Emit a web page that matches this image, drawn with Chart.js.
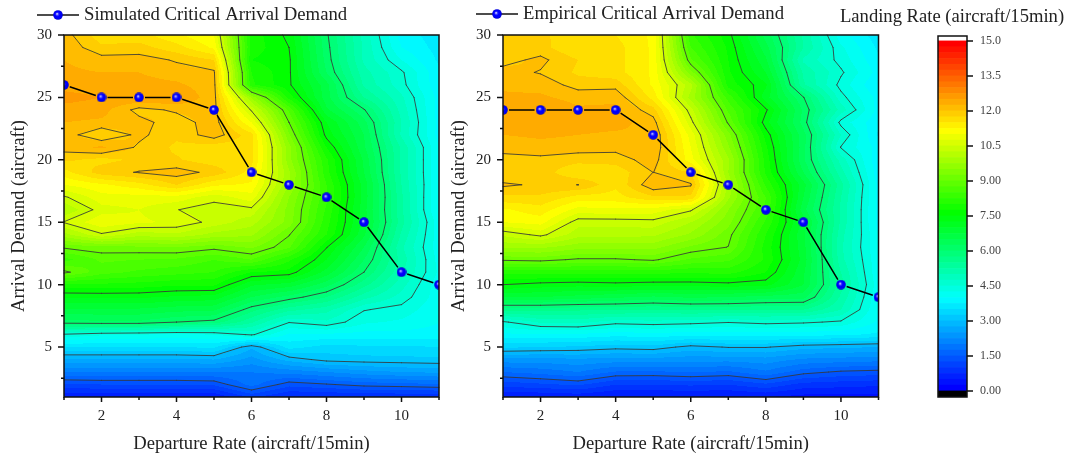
<!DOCTYPE html>
<html>
<head>
<meta charset="utf-8">
<title>Critical Arrival Demand</title>
<script src="https://cdn.jsdelivr.net/npm/chart.js@4/dist/chart.umd.min.js"></script>
<style>
  body { margin: 0; background: #fff; width: 1068px; height: 458px; overflow: hidden; }
  canvas { position: absolute; top: 0; }
  #simChart { left: 0; }
  #empChart { left: 440px; }
  #barChart { left: 830px; }
</style>
</head>
<body>
<canvas id="simChart" width="450" height="458"></canvas>
<canvas id="empChart" width="450" height="458"></canvas>
<canvas id="barChart" width="238" height="458"></canvas>
<script>
// ===== DATA =====
const departureRates = [1, 2, 3, 4, 5, 6, 7, 8, 9, 10, 11];
const arrivalDemands = [1, 2, 3, 4, 5, 6, 7, 8, 9, 10, 11, 12, 13, 14, 15, 16, 17, 18, 19, 20, 21, 22, 23, 24, 25, 26, 27, 28, 29, 30];

const simulatedCritical = [26, 25, 25, 25, 24, 19, 18, 17, 15, 11, 10];
const empiricalCritical = [24, 24, 24, 24, 22, 19, 18, 16, 15, 10, 9];

// landing rate, one row per arrival demand (1 to 30), one column per departure rate (1 to 11)
const simulatedRates = [
  [0.5, 0.5, 0.5, 0.5, 0.5, 1.05, 0.7, 0.7, 0.75, 0.75, 0.75],
  [1.2, 1.25, 1.25, 1.25, 1.3, 1.85, 1.35, 1.47, 1.6, 1.65, 1.72],
  [2.0, 2.0, 2.0, 2.0, 2.0, 2.0, 2.1, 2.25, 2.4, 2.5, 2.55],
  [2.7, 2.7, 2.7, 2.7, 2.75, 2.4, 2.85, 3.1, 3.15, 3.17, 3.2],
  [3.5, 3.5, 3.5, 3.5, 3.55, 2.8, 3.6, 3.4, 3.45, 3.45, 3.5],
  [4.45, 4.3, 4.25, 4.2, 4.25, 4.55, 3.95, 3.95, 3.9, 3.9, 3.9],
  [6.15, 6.2, 6.2, 6.0, 5.9, 5.3, 4.52, 4.7, 4.3, 4.2, 4.0],
  [6.7, 6.7, 6.7, 6.6, 6.55, 5.85, 5.35, 5.1, 4.52, 4.4, 4.05],
  [7.3, 7.3, 7.3, 7.2, 7.15, 6.5, 6.15, 5.75, 5.1, 4.65, 4.1],
  [7.9, 7.95, 7.9, 7.8, 7.8, 7.05, 6.9, 6.35, 5.6, 4.85, 4.1],
  [9.08, 8.6, 8.45, 8.35, 8.25, 7.75, 7.65, 6.9, 6.0, 5.05, 4.2],
  [8.4, 8.8, 8.75, 8.7, 8.5, 8.75, 8.05, 7.25, 6.25, 5.15, 4.15],
  [9.05, 9.17, 9.2, 9.25, 9.1, 9.3, 8.8, 7.52, 6.5, 5.05, 4.1],
  [9.9, 10.45, 10.1, 10.2, 9.9, 9.8, 9.02, 8.0, 6.8, 5.2, 4.1],
  [10.52, 10.95, 10.8, 10.7, 10.4, 10.1, 9.4, 8.1, 6.9, 5.35, 4.1],
  [10.0, 10.65, 10.75, 10.51, 10.35, 10.42, 9.4, 8.2, 6.85, 5.3, 3.95],
  [10.45, 10.9, 10.9, 10.9, 10.6, 10.9, 9.5, 8.3, 6.9, 5.3, 3.95],
  [11.0, 11.2, 11.4, 11.76, 11.3, 11.2, 9.75, 8.25, 6.9, 5.25, 4.0],
  [11.4, 11.88, 12.02, 12.12, 11.92, 11.4, 9.8, 8.1, 6.75, 5.2, 4.0],
  [11.8, 11.67, 11.8, 11.78, 11.6, 11.6, 9.6, 8.05, 6.7, 5.2, 4.0],
  [12.12, 12.3, 11.95, 11.7, 11.6, 11.6, 9.6, 7.75, 6.55, 5.2, 4.0],
  [12.15, 11.75, 12.07, 11.8, 12.15, 11.6, 9.3, 7.4, 6.5, 4.95, 3.9],
  [12.25, 12.2, 12.1, 11.85, 12.15, 11.0, 9.0, 7.25, 6.35, 5.0, 3.9],
  [12.4, 12.35, 11.9, 12.05, 12.1, 10.45, 8.7, 6.8, 6.03, 4.9, 3.9],
  [12.6, 12.5, 12.5, 12.5, 12.1, 9.7, 7.9, 6.6, 5.5, 4.8, 3.9],
  [12.4, 12.35, 12.35, 12.3, 12.1, 8.05, 7.55, 6.6, 5.2, 4.6, 3.8],
  [12.3, 12.25, 12.25, 12.12, 12.05, 8.0, 7.55, 6.25, 5.1, 4.55, 3.8],
  [12.25, 12.12, 12.12, 11.97, 11.75, 7.75, 7.55, 6.15, 4.95, 4.25, 3.7],
  [12.2, 11.8, 11.85, 11.6, 11.2, 7.9, 7.5, 6.1, 4.95, 4.0, 3.65],
  [12.12, 11.6, 11.6, 11.3, 11.0, 7.9, 7.42, 6.05, 4.9, 3.9, 3.6]
];

const empiricalRates = [
  [0.5, 0.5, 0.55, 0.45, 0.45, 0.45, 0.45, 0.5, 0.4, 0.4, 0.4],
  [1.1, 1.2, 1.3, 1.0, 1.0, 1.05, 1.0, 1.2, 0.9, 0.85, 0.8],
  [1.75, 1.85, 2.0, 1.72, 1.7, 1.77, 1.7, 1.95, 1.6, 1.45, 1.4],
  [2.4, 2.4, 2.45, 2.4, 2.4, 2.35, 2.35, 2.4, 2.2, 2.15, 2.1],
  [3.3, 3.25, 3.2, 3.1, 3.15, 2.9, 3.02, 3.02, 2.85, 2.8, 2.75],
  [3.95, 3.95, 3.95, 3.85, 3.9, 3.85, 3.85, 3.85, 3.85, 3.8, 3.7],
  [4.45, 4.8, 4.85, 4.6, 4.65, 4.6, 4.52, 4.6, 4.55, 4.45, 3.95],
  [5.6, 5.6, 5.55, 5.55, 5.5, 5.55, 5.55, 5.5, 5.5, 5.0, 4.0],
  [6.75, 6.75, 6.65, 6.55, 6.45, 6.55, 6.5, 6.4, 6.35, 5.2, 4.05],
  [7.5, 7.4, 7.35, 7.4, 7.35, 7.35, 7.4, 7.35, 6.75, 5.35, 4.1],
  [8.1, 8.1, 8.1, 8.1, 8.1, 8.05, 8.1, 7.75, 6.8, 5.25, 4.05],
  [9.05, 9.1, 8.95, 8.95, 9.05, 8.7, 8.55, 7.95, 6.9, 5.1, 4.05],
  [9.8, 9.8, 9.6, 9.6, 9.6, 9.2, 8.99, 7.9, 6.85, 5.05, 4.0],
  [10.3, 10.58, 10.1, 10.1, 10.05, 9.7, 9.1, 8.0, 6.8, 5.1, 4.0],
  [11.0, 11.1, 10.35, 10.35, 10.4, 10.0, 9.35, 8.2, 6.9, 5.2, 3.9],
  [11.2, 11.4, 10.9, 10.95, 10.9, 10.55, 9.5, 8.45, 6.6, 5.2, 3.9],
  [11.7, 11.7, 11.4, 11.4, 11.7, 11.7, 9.8, 8.5, 6.75, 5.25, 3.9],
  [12.05, 11.95, 12.002, 11.55, 12.2, 12.03, 9.95, 8.2, 6.85, 5.35, 3.9],
  [11.75, 11.9, 11.5, 11.6, 12.003, 11.75, 9.75, 7.95, 6.5, 5.1, 3.85],
  [11.9, 11.93, 11.85, 11.85, 12.15, 11.1, 9.8, 7.9, 6.3, 4.9, 3.8],
  [12.1, 12.15, 12.12, 12.1, 12.25, 11.0, 9.55, 7.8, 6.35, 4.48, 3.9],
  [12.25, 12.3, 12.25, 12.2, 12.25, 10.9, 9.35, 7.65, 6.35, 4.75, 3.7],
  [12.4, 12.5, 12.4, 12.35, 12.12, 10.6, 8.95, 7.35, 6.15, 4.4, 3.8],
  [12.45, 12.5, 12.3, 12.3, 11.85, 10.35, 8.7, 7.55, 6.2, 4.9, 3.9],
  [12.3, 12.3, 12.15, 12.2, 11.4, 9.9, 8.4, 7.1, 6.02, 4.6, 3.9],
  [12.2, 12.15, 11.9, 11.9, 11.2, 10.1, 7.9, 7.3, 5.3, 4.4, 3.75],
  [12.1, 11.98, 11.7, 11.6, 11.2, 9.35, 7.8, 7.0, 5.2, 4.55, 3.9],
  [11.9, 12.07, 11.75, 11.6, 11.2, 8.8, 7.75, 6.8, 4.95, 4.4, 3.8],
  [11.85, 11.85, 11.5, 11.6, 11.2, 8.5, 7.7, 6.6, 5.25, 4.3, 3.7],
  [11.95, 11.8, 11.6, 11.5, 11.2, 8.3, 7.6, 6.4, 5.2, 4.1, 3.6]
];

const contourLevels = [1.5, 3, 4.5, 6, 7.5, 9, 10.5, 12];

const xMajorTicks = [2, 4, 6, 8, 10];
const xMinorTicks = [1, 3, 5, 7, 9, 11];
const yMajorTicks = [5, 10, 15, 20, 25, 30];
const yMinorTicks = [2.5, 7.5, 12.5, 17.5, 22.5, 27.5];
const barTicks = [0, 1.5, 3, 4.5, 6, 7.5, 9, 10.5, 12, 13.5, 15];
const barTickLabels = ['0.00', '1.50', '3.00', '4.50', '6.00', '7.50', '9.00', '10.5', '12.0', '13.5', '15.0'];

// ===== COLOUR MAP =====
const BAND = 0.25;
const BAND_COUNT = 60;
const colorStops = [
  [0, [0, 0, 255]],
  [3.9, [0, 255, 255]],
  [7.6, [0, 255, 0]],
  [11.2, [255, 255, 0]],
  [15, [255, 0, 0]]
];

function rateColor(v) {
  for (let i = 1; i < colorStops.length; i++) {
    const [v0, c0] = colorStops[i - 1];
    const [v1, c1] = colorStops[i];
    if (v <= v1) {
      const t = (v - v0) / (v1 - v0);
      return c0.map((c, k) => Math.round(c + (c1[k] - c) * t));
    }
  }
  return colorStops[colorStops.length - 1][1];
}

const bandColors = [];
for (let i = 0; i < BAND_COUNT; i++) {
  bandColors.push(rateColor(15 * i / (BAND_COUNT - 1)));
}

// ===== SPHERE MARKER =====
function makeSphere() {
  const c = document.createElement('canvas');
  c.width = 10;
  c.height = 10;
  const g = c.getContext('2d');
  const grad = g.createRadialGradient(4, 3.8, 0.2, 5, 5, 5);
  grad.addColorStop(0, '#f4f4ff');
  grad.addColorStop(0.2, '#4a4aff');
  grad.addColorStop(0.45, '#0000ff');
  grad.addColorStop(0.85, '#0000f0');
  grad.addColorStop(1, '#0000b0');
  g.fillStyle = grad;
  g.beginPath();
  g.arc(5, 5, 4.8, 0, Math.PI * 2);
  g.fill();
  return c;
}
const sphere = makeSphere();

// ===== DRAWING HELPERS =====
const SERIF = '"Liberation Serif", "Times New Roman", serif';

function drawBands(chart, grid) {
  const { ctx, chartArea: a, scales } = chart;
  const w = Math.ceil(a.right - a.left);
  const h = Math.ceil(a.bottom - a.top);
  const off = document.createElement('canvas');
  off.width = w;
  off.height = h;
  const offCtx = off.getContext('2d');
  const img = offCtx.createImageData(w, h);

  for (let py = 0; py < h; py++) {
    const yVal = scales.y.getValueForPixel(a.top + py + 0.5);
    const r = Math.max(0, Math.min(arrivalDemands.length - 2, Math.floor(yVal) - 1));
    const ty = Math.max(0, Math.min(1, yVal - arrivalDemands[r]));
    for (let px = 0; px < w; px++) {
      const xVal = scales.x.getValueForPixel(a.left + px + 0.5);
      const c = Math.max(0, Math.min(departureRates.length - 2, Math.floor(xVal) - 1));
      const tx = Math.max(0, Math.min(1, xVal - departureRates[c]));
      const v = grid[r][c] * (1 - tx) * (1 - ty) + grid[r][c + 1] * tx * (1 - ty) +
        grid[r + 1][c] * (1 - tx) * ty + grid[r + 1][c + 1] * tx * ty;
      const band = Math.max(0, Math.min(BAND_COUNT - 1, Math.floor(v / BAND)));
      const col = bandColors[band];
      const i = (py * w + px) * 4;
      img.data[i] = col[0];
      img.data[i + 1] = col[1];
      img.data[i + 2] = col[2];
      img.data[i + 3] = 255;
    }
  }
  offCtx.putImageData(img, 0, 0);
  ctx.drawImage(off, a.left, a.top);
}

// Marching squares over the grid, one pass per contour level
function drawContours(chart, grid) {
  const { ctx, scales } = chart;
  const cross = (x0, y0, v0, x1, y1, v1, level) => {
    if ((v0 >= level) === (v1 >= level)) return null;
    const t = (level - v0) / (v1 - v0);
    return [scales.x.getPixelForValue(x0 + (x1 - x0) * t), scales.y.getPixelForValue(y0 + (y1 - y0) * t)];
  };

  ctx.save();
  ctx.strokeStyle = 'rgba(55,55,55,0.85)';
  ctx.lineWidth = 1;
  ctx.lineCap = 'round';
  ctx.beginPath();
  contourLevels.forEach(level => {
    for (let r = 0; r < arrivalDemands.length - 1; r++) {
      for (let c = 0; c < departureRates.length - 1; c++) {
        const x0 = departureRates[c], x1 = departureRates[c + 1];
        const y0 = arrivalDemands[r], y1 = arrivalDemands[r + 1];
        const a = grid[r][c], b = grid[r][c + 1], d = grid[r + 1][c + 1], e = grid[r + 1][c];
        const pts = [
          cross(x0, y0, a, x1, y0, b, level),
          cross(x1, y0, b, x1, y1, d, level),
          cross(x1, y1, d, x0, y1, e, level),
          cross(x0, y1, e, x0, y0, a, level)
        ].filter(Boolean);
        if (pts.length === 2) {
          ctx.moveTo(pts[0][0], pts[0][1]);
          ctx.lineTo(pts[1][0], pts[1][1]);
        } else if (pts.length === 4) {
          const high = (a + b + d + e) / 4 >= level;
          const pairs = (a >= level) === high ? [[0, 1], [2, 3]] : [[0, 3], [1, 2]];
          pairs.forEach(([p, q]) => {
            ctx.moveTo(pts[p][0], pts[p][1]);
            ctx.lineTo(pts[q][0], pts[q][1]);
          });
        }
      }
    }
  });
  ctx.stroke();
  ctx.restore();
}

// The critical line stops short of each marker
function drawCriticalLine(chart) {
  const { ctx, chartArea: a } = chart;
  const pts = chart.getDatasetMeta(0).data;
  const gap = 6;
  ctx.save();
  ctx.beginPath();
  ctx.rect(a.left, a.top, a.right - a.left, a.bottom - a.top);
  ctx.clip();
  ctx.strokeStyle = '#000';
  ctx.lineWidth = 1.5;
  ctx.beginPath();
  for (let i = 1; i < pts.length; i++) {
    const dx = pts[i].x - pts[i - 1].x;
    const dy = pts[i].y - pts[i - 1].y;
    const len = Math.hypot(dx, dy);
    ctx.moveTo(pts[i - 1].x + dx / len * gap, pts[i - 1].y + dy / len * gap);
    ctx.lineTo(pts[i].x - dx / len * gap, pts[i].y - dy / len * gap);
  }
  ctx.stroke();
  ctx.restore();
}

function drawTick(ctx, x0, y0, x1, y1) {
  ctx.moveTo(x0, y0);
  ctx.lineTo(x1, y1);
}

function drawFrame(chart) {
  const { ctx, chartArea: a, scales } = chart;
  ctx.save();
  ctx.strokeStyle = '#111';
  ctx.lineWidth = 1.5;
  ctx.strokeRect(a.left, a.top, a.right - a.left, a.bottom - a.top);
  ctx.beginPath();
  xMajorTicks.forEach(v => {
    const x = scales.x.getPixelForValue(v);
    drawTick(ctx, x, a.bottom, x, a.bottom + 5);
  });
  xMinorTicks.forEach(v => {
    const x = scales.x.getPixelForValue(v);
    drawTick(ctx, x, a.bottom, x, a.bottom + 3);
  });
  yMajorTicks.forEach(v => {
    const y = scales.y.getPixelForValue(v);
    drawTick(ctx, a.left, y, a.left - 6, y);
  });
  yMinorTicks.forEach(v => {
    const y = scales.y.getPixelForValue(v);
    drawTick(ctx, a.left, y, a.left - 3, y);
  });
  ctx.stroke();
  ctx.restore();
}

function drawLegend(chart, text, lineLeft, textLeft, y) {
  const { ctx } = chart;
  ctx.save();
  ctx.strokeStyle = '#111';
  ctx.lineWidth = 1.3;
  ctx.beginPath();
  ctx.moveTo(lineLeft, y);
  ctx.lineTo(lineLeft + 42, y);
  ctx.stroke();
  ctx.drawImage(sphere, lineLeft + 16, y - 5);
  ctx.fillStyle = '#222';
  ctx.font = '18.7px ' + SERIF;
  ctx.textBaseline = 'middle';
  ctx.fillText(text, textLeft, y);
  ctx.restore();
}

// ===== CONTOUR CHARTS =====
function makeContourChart(id, grid, critical, legend, plotLeft, plotRight) {
  const canvas = document.getElementById(id);
  new Chart(canvas, {
    type: 'scatter',
    data: {
      datasets: [{
        label: legend.text,
        data: departureRates.map((x, i) => ({ x: x, y: critical[i] })),
        showLine: false,
        pointStyle: sphere,
        pointRadius: 5,
        clip: 0
      }]
    },
    options: {
      responsive: false,
      animation: false,
      events: [],
      layout: { padding: { top: 35, right: canvas.width - plotRight, left: 0, bottom: 0 } },
      plugins: { legend: { display: false }, tooltip: { enabled: false } },
      scales: {
        x: {
          type: 'linear',
          min: 1,
          max: 11,
          border: { display: false },
          grid: { display: false, drawTicks: false },
          afterBuildTicks: s => { s.ticks = xMajorTicks.map(v => ({ value: v })); },
          afterFit: s => { s.height = 61; },
          ticks: {
            autoSkip: false,
            maxRotation: 0,
            padding: 10,
            color: '#222',
            font: { family: SERIF, size: 15 }
          },
          title: {
            display: true,
            text: 'Departure Rate (aircraft/15min)',
            color: '#222',
            padding: { top: 0, bottom: 3 },
            font: { family: SERIF, size: 18.6 }
          }
        },
        y: {
          type: 'linear',
          min: 1,
          max: 30,
          border: { display: false },
          grid: { display: false, drawTicks: false },
          afterBuildTicks: s => { s.ticks = yMajorTicks.map(v => ({ value: v })); },
          afterFit: s => { s.width = plotLeft; },
          ticks: {
            autoSkip: false,
            padding: 12,
            color: '#222',
            font: { family: SERIF, size: 15 }
          },
          title: {
            display: true,
            text: 'Arrival Demand (aircraft)',
            color: '#222',
            padding: { top: 8, bottom: 0 },
            font: { family: SERIF, size: 18.6 }
          }
        }
      }
    },
    plugins: [{
      id: 'contourLayer',
      beforeDatasetsDraw(chart) {
        drawBands(chart, grid);
        drawContours(chart, grid);
        drawCriticalLine(chart);
      },
      afterDatasetsDraw(chart) {
        drawFrame(chart);
        drawLegend(chart, legend.text, legend.lineLeft, legend.textLeft, legend.y);
      }
    }]
  });
}

makeContourChart('simChart', simulatedRates, simulatedCritical,
  { text: 'Simulated Critical Arrival Demand', lineLeft: 37, textLeft: 84, y: 15 }, 64, 439);
makeContourChart('empChart', empiricalRates, empiricalCritical,
  { text: 'Empirical Critical Arrival Demand', lineLeft: 36, textLeft: 83, y: 14 }, 63, 438.5);

// ===== COLOUR BAR =====
const bandDatasets = bandColors.map((col, i) => ({
  data: [[i * BAND, (i + 1) * BAND]],
  backgroundColor: `rgb(${col[0]},${col[1]},${col[2]})`
}));
bandDatasets.unshift({ data: [[-0.26, 0]], backgroundColor: '#000' });

new Chart(document.getElementById('barChart'), {
  type: 'bar',
  data: { labels: ['Landing Rate'], datasets: bandDatasets },
  options: {
    responsive: false,
    animation: false,
    events: [],
    layout: { padding: { top: 36, bottom: 61, left: 108, right: 0 } },
    plugins: { legend: { display: false }, tooltip: { enabled: false } },
    datasets: { bar: { grouped: false, barPercentage: 1, categoryPercentage: 1 } },
    scales: {
      x: { display: false },
      y: {
        position: 'right',
        min: -0.26,
        max: 15.21,
        border: { display: false },
        grid: { display: false, drawTicks: false },
        afterBuildTicks: s => { s.ticks = barTicks.map(v => ({ value: v })); },
        afterFit: s => { s.width = 101; },
        ticks: {
          autoSkip: false,
          padding: 13,
          color: '#444',
          font: { family: SERIF, size: 12 },
          callback: v => barTickLabels[barTicks.indexOf(v)]
        }
      }
    }
  },
  plugins: [{
    id: 'barFrame',
    afterDatasetsDraw(chart) {
      const { ctx, chartArea: a, scales } = chart;
      ctx.save();
      ctx.strokeStyle = '#111';
      ctx.lineWidth = 1.5;
      ctx.strokeRect(a.left, a.top, a.right - a.left, a.bottom - a.top);
      ctx.beginPath();
      barTicks.forEach(v => {
        const y = scales.y.getPixelForValue(v);
        drawTick(ctx, a.right, y, a.right + 6, y);
      });
      ctx.stroke();
      ctx.fillStyle = '#222';
      ctx.font = '18.6px ' + SERIF;
      ctx.textBaseline = 'middle';
      ctx.fillText('Landing Rate (aircraft/15min)', 10, 17);
      ctx.restore();
    }
  }]
});
</script>
</body>
</html>
